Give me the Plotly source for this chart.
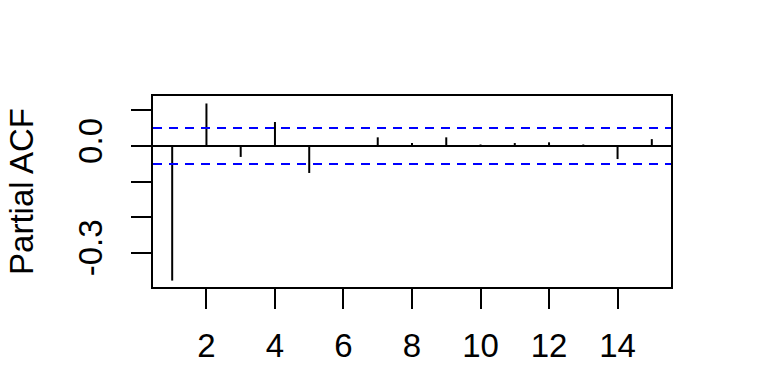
import plotly.graph_objects as go

lags = list(range(1, 16))
pacf = [-0.378, 0.119, -0.031, 0.067, -0.076, -0.002, 0.024, 0.008,
        0.024, 0.004, 0.008, 0.010, 0.004, -0.037, 0.019]
clim = 0.0505
x_ticks = [2, 4, 6, 8, 10, 12, 14]
y_ticks = [0.1, 0.0, -0.1, -0.2, -0.3]
y_ticktext = ["", "0.0", "", "", "-0.3"]

xs, ys = [], []
for l, v in zip(lags, pacf):
    xs += [l, l, None]
    ys += [0, v, None]

FONT = "Liberation Sans, Arial, sans-serif"
FS = 33
fig = go.Figure()
fig.add_trace(go.Scatter(x=xs, y=ys, mode="lines",
                         line=dict(color="black", width=2), showlegend=False,
                         hoverinfo="skip"))
xr = [0.44, 15.56]
fig.add_trace(go.Scatter(x=xr, y=[0, 0], mode="lines",
                         line=dict(color="black", width=2), showlegend=False))
for c in (clim, -clim):
    fig.add_trace(go.Scatter(x=xr, y=[c, c], mode="lines",
                             line=dict(color="#0000FF", width=2, dash="9px,7px"),
                             showlegend=False))

fig.update_layout(
    width=768, height=384,
    margin=dict(l=153, r=97, t=96, b=97),
    paper_bgcolor="white", plot_bgcolor="white",
    font=dict(family=FONT, size=FS, color="black"),
    showlegend=False,
)
fig.update_xaxes(range=xr, showgrid=False, zeroline=False,
                 showline=True, linecolor="black", linewidth=2, mirror=True,
                 ticks="outside", ticklen=20, tickwidth=2, tickcolor="black",
                 tickvals=x_ticks, ticktext=[str(v) for v in x_ticks],
                 ticklabelstandoff=8,
                 tickfont=dict(family=FONT, size=FS, color="black"))
fig.update_yaxes(range=[-0.396, 0.140], showgrid=False, zeroline=False,
                 showline=True, linecolor="black", linewidth=2, mirror=True,
                 ticks="outside", ticklen=20, tickwidth=2, tickcolor="black",
                 tickvals=y_ticks, ticktext=y_ticktext, tickangle=-90,
                 ticklabelstandoff=16,
                 tickfont=dict(family=FONT, size=FS, color="black"),
                 title=dict(text="Partial ACF", standoff=28,
                            font=dict(family=FONT, size=FS, color="black")))

fig.write_html("out.html")
